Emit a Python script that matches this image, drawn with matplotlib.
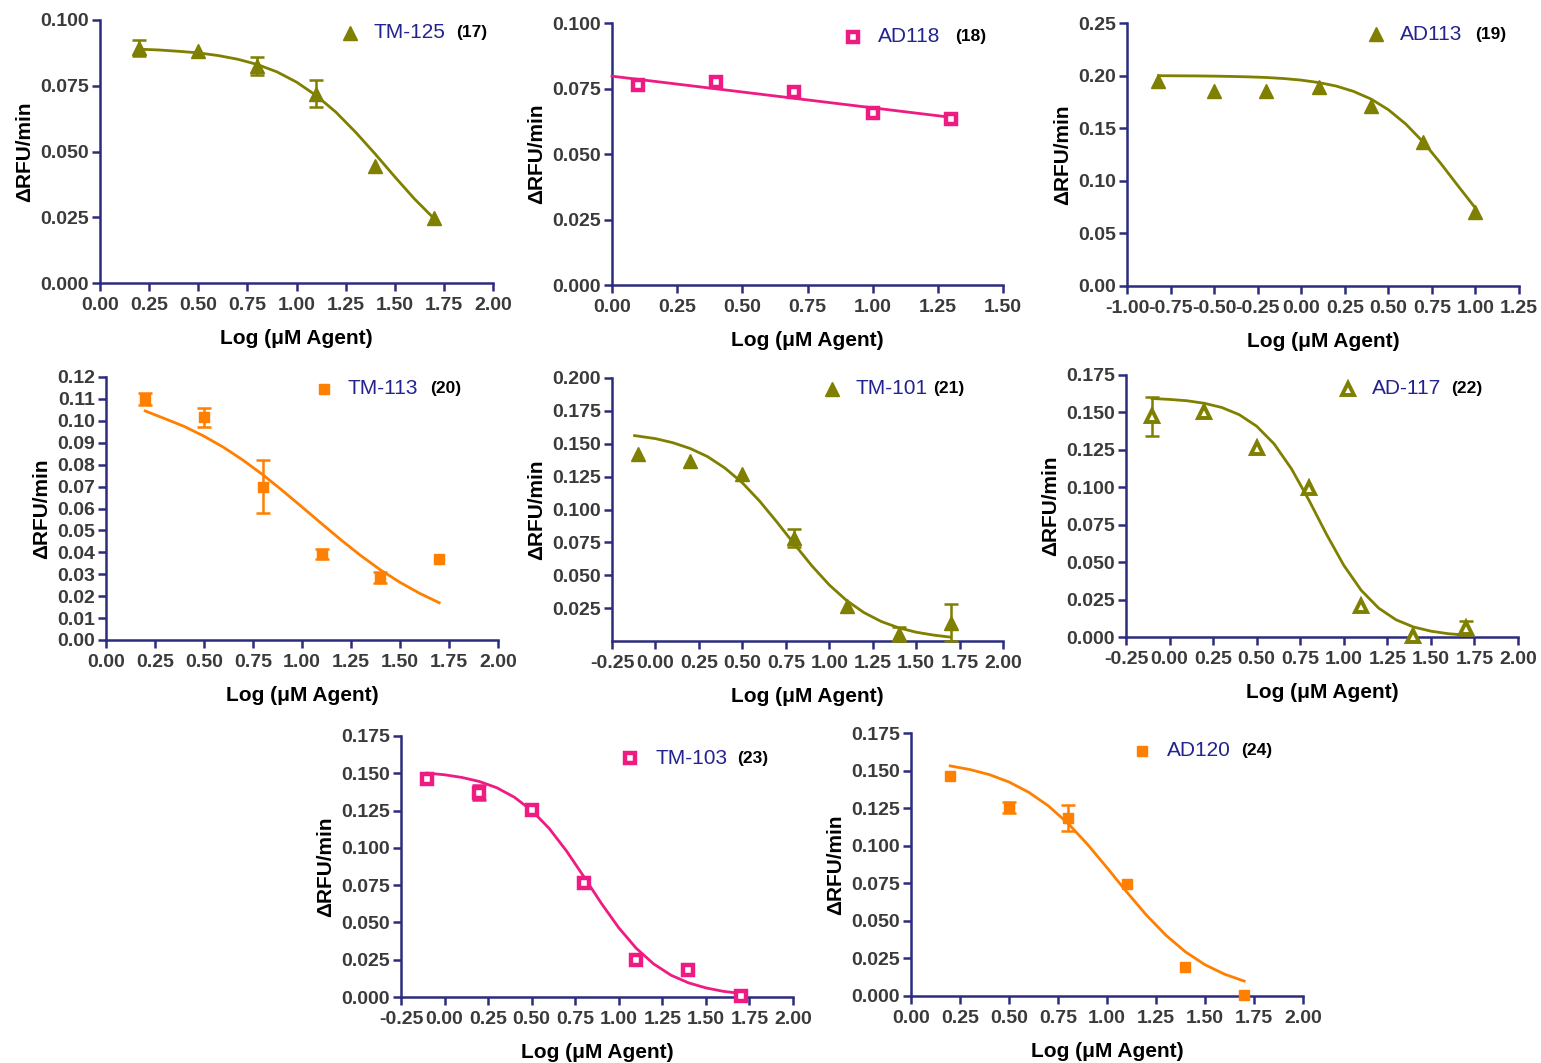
import matplotlib
matplotlib.use("Agg")
import matplotlib.pyplot as plt
from matplotlib.lines import Line2D
from matplotlib.ticker import FormatStrFormatter

plt.rcParams['font.family'] = ['Liberation Sans', 'DejaVu Sans']
plt.rcParams['font.weight'] = 'bold'
plt.rcParams['axes.unicode_minus'] = False

# ---------------------------------------------------------------- data
# TM-125 (17)
tm125_x = [0.2, 0.5, 0.8, 1.1, 1.4, 1.7]
tm125_y = [0.0895, 0.0883, 0.0825, 0.0720, 0.0445, 0.0247]
tm125_err = [0.0030, 0.0, 0.0033, 0.0050, 0.0, 0.0]
tm125_fit_x = [0.2, 0.3, 0.4, 0.5, 0.6, 0.7, 0.8, 0.9, 1.0, 1.1, 1.2, 1.3, 1.4, 1.5, 1.6, 1.7]
tm125_fit_y = [0.0889, 0.0886, 0.0881, 0.0875, 0.0865, 0.0851, 0.0831, 0.0803,
               0.0764, 0.0713, 0.0650, 0.0574, 0.0491, 0.0404, 0.0320, 0.0245]

# AD118 (18)
ad118_x = [0.1, 0.4, 0.7, 1.0, 1.3]
ad118_y = [0.0763, 0.0775, 0.0736, 0.0658, 0.0635]
ad118_err = [0.0, 0.0, 0.0, 0.0, 0.0]
ad118_fit_x = [0.0, 1.3]
ad118_fit_y = [0.0797, 0.0640]

# AD113 (19)
ad113_x = [-0.82, -0.5, -0.2, 0.1, 0.4, 0.7, 1.0]
ad113_y = [0.1944, 0.1855, 0.1855, 0.1896, 0.1712, 0.1370, 0.0700]
ad113_err = [0.0, 0.0, 0.0, 0.0, 0.0, 0.0, 0.0]
ad113_fit_x = [-0.82, -0.7, -0.6, -0.5, -0.4, -0.3, -0.2, -0.1, 0.0, 0.1,
               0.2, 0.3, 0.4, 0.5, 0.6, 0.7, 0.8, 0.9, 1.0]
ad113_fit_y = [0.1999, 0.1998, 0.1997, 0.1995, 0.1992, 0.1988, 0.1982, 0.1972, 0.1957, 0.1934,
               0.1901, 0.1850, 0.1778, 0.1676, 0.1540, 0.1369, 0.1167, 0.0952, 0.0740]

# TM-113 (20)
tm113_x = [0.2, 0.5, 0.8, 1.1, 1.4, 1.7]
tm113_y = [0.1101, 0.1016, 0.0700, 0.0393, 0.0285, 0.0370]
tm113_err = [0.0027, 0.0043, 0.0120, 0.0024, 0.0027, 0.0]
tm113_fit_x = [0.2, 0.3, 0.4, 0.5, 0.6, 0.7, 0.8, 0.9, 1.0, 1.1, 1.2, 1.3, 1.4, 1.5, 1.6, 1.7]
tm113_fit_y = [0.1045, 0.1010, 0.0974, 0.0930, 0.0879, 0.0820, 0.0754, 0.0682,
               0.0607, 0.0531, 0.0456, 0.0385, 0.0320, 0.0263, 0.0213, 0.0170]

# TM-101 (21)
tm101_x = [-0.1, 0.2, 0.5, 0.8, 1.1, 1.4, 1.7]
tm101_y = [0.1420, 0.1370, 0.1270, 0.0783, 0.0265, 0.0055, 0.0140]
tm101_err = [0.0, 0.0, 0.0, 0.0070, 0.0, 0.0055, 0.0140]
tm101_fit_x = [-0.12, 0.0, 0.1, 0.2, 0.3, 0.4, 0.5, 0.6, 0.7, 0.8,
               0.9, 1.0, 1.1, 1.2, 1.3, 1.4, 1.5, 1.6, 1.7]
tm101_fit_y = [0.1562, 0.1539, 0.1508, 0.1464, 0.1402, 0.1315, 0.1203, 0.1063, 0.0903, 0.0735,
               0.0572, 0.0427, 0.0308, 0.0216, 0.0148, 0.0100, 0.0067, 0.0045, 0.0029]

# AD-117 (22)
ad117_x = [-0.1, 0.2, 0.5, 0.8, 1.1, 1.4, 1.7]
ad117_y = [0.1475, 0.1500, 0.1265, 0.0995, 0.0210, 0.0010, 0.0060]
ad117_err = [0.0130, 0.0, 0.0, 0.0, 0.0, 0.0, 0.0045]
ad117_fit_x = [-0.1, 0.0, 0.1, 0.2, 0.3, 0.4, 0.5, 0.6, 0.7, 0.8,
               0.9, 1.0, 1.1, 1.2, 1.3, 1.4, 1.5, 1.6, 1.7]
ad117_fit_y = [0.1593, 0.1587, 0.1578, 0.1561, 0.1533, 0.1485, 0.1408, 0.1290, 0.1123, 0.0914,
               0.0688, 0.0479, 0.0312, 0.0193, 0.0115, 0.0067, 0.0039, 0.0022, 0.0013]

# TM-103 (23)
tm103_x = [-0.1, 0.2, 0.5, 0.8, 1.1, 1.4, 1.7]
tm103_y = [0.1465, 0.1369, 0.1253, 0.0765, 0.0250, 0.0180, 0.0010]
tm103_err = [0.0, 0.0050, 0.0, 0.0, 0.0, 0.0, 0.0]
tm103_fit_x = [-0.1, 0.0, 0.1, 0.2, 0.3, 0.4, 0.5, 0.6, 0.7, 0.8,
               0.9, 1.0, 1.1, 1.2, 1.3, 1.4, 1.5, 1.6, 1.7]
tm103_fit_y = [0.1501, 0.1490, 0.1472, 0.1445, 0.1403, 0.1340, 0.1251, 0.1131, 0.0979, 0.0806,
               0.0628, 0.0464, 0.0327, 0.0222, 0.0146, 0.0095, 0.0061, 0.0038, 0.0024]

# AD120 (24)
ad120_x = [0.2, 0.5, 0.8, 1.1, 1.4, 1.7]
ad120_y = [0.1465, 0.1255, 0.1185, 0.0745, 0.0195, 0.0008]
ad120_err = [0.0, 0.0035, 0.0088, 0.0, 0.0, 0.0]
ad120_fit_x = [0.2, 0.3, 0.4, 0.5, 0.6, 0.7, 0.8, 0.9, 1.0, 1.1, 1.2, 1.3, 1.4, 1.5, 1.6, 1.7]
ad120_fit_y = [0.1531, 0.1507, 0.1473, 0.1424, 0.1356, 0.1266, 0.1150, 0.1010,
               0.0854, 0.0693, 0.0540, 0.0405, 0.0294, 0.0208, 0.0145, 0.0099]

compound_names = ["TM-125", "AD118", "AD113", "TM-113", "TM-101", "AD-117", "TM-103", "AD120"]
compound_numbers = ["(17)", "(18)", "(19)", "(20)", "(21)", "(22)", "(23)", "(24)"]

# ---------------------------------------------------------------- styles
OLIVE = "#7f7f00"
PINK = "#ee1b82"
ORANGE = "#ff7f00"
AXIS = "#2c2c7e"
TICKTXT = "#3a3a3a"
LEGTXT = "#23238f"

filled_tri = dict(marker="^", ms=9.5, mfc=OLIVE, mec=OLIVE, mew=1.0)
open_tri = dict(marker="^", ms=8.5, mfc="white", mec=OLIVE, mew=2.8)
open_sq = dict(marker="s", ms=6.5, mfc="white", mec=PINK, mew=3.2)
filled_sq = dict(marker="s", ms=7.5, mfc=ORANGE, mec=ORANGE, mew=1.0)

series = [
    (tm125_x, tm125_y, tm125_err, tm125_fit_x, tm125_fit_y, OLIVE, filled_tri),
    (ad118_x, ad118_y, ad118_err, ad118_fit_x, ad118_fit_y, PINK, open_sq),
    (ad113_x, ad113_y, ad113_err, ad113_fit_x, ad113_fit_y, OLIVE, filled_tri),
    (tm113_x, tm113_y, tm113_err, tm113_fit_x, tm113_fit_y, ORANGE, filled_sq),
    (tm101_x, tm101_y, tm101_err, tm101_fit_x, tm101_fit_y, OLIVE, filled_tri),
    (ad117_x, ad117_y, ad117_err, ad117_fit_x, ad117_fit_y, OLIVE, open_tri),
    (tm103_x, tm103_y, tm103_err, tm103_fit_x, tm103_fit_y, PINK, open_sq),
    (ad120_x, ad120_y, ad120_err, ad120_fit_x, ad120_fit_y, ORANGE, filled_sq),
]

# ---------------------------------------------------------------- layout (pixels)
W, H = 1541, 1063
# (left, top, right, bottom) of each plotting area
boxes = [
    (100, 20, 493, 283), (612, 23, 1003, 285), (1127, 23, 1519, 286),
    (106, 377, 498, 640), (612, 378, 1003, 641), (1126, 375, 1518, 637),
    (401, 736, 793, 997), (911, 733, 1303, 996),
]
# axis ranges: (xmin, xmax, xstep, ymin, ymax, ystep, first y tick, y format)
ranges = [
    (0.0, 2.0, 0.25, 0.0, 0.100, 0.025, 0.0, "%.3f"),
    (0.0, 1.5, 0.25, 0.0, 0.100, 0.025, 0.0, "%.3f"),
    (-1.0, 1.25, 0.25, 0.0, 0.25, 0.05, 0.0, "%.2f"),
    (0.0, 2.0, 0.25, 0.0, 0.12, 0.01, 0.0, "%.2f"),
    (-0.25, 2.0, 0.25, 0.0, 0.200, 0.025, 0.025, "%.3f"),
    (-0.25, 2.0, 0.25, 0.0, 0.175, 0.025, 0.0, "%.3f"),
    (-0.25, 2.0, 0.25, 0.0, 0.175, 0.025, 0.0, "%.3f"),
    (0.0, 2.0, 0.25, 0.0, 0.175, 0.025, 0.0, "%.3f"),
]
# legend: marker x, marker/text y, name x, number x
legend_pos = [
    (350, 33, 373, 456), (853, 37, 878, 955), (1376, 34, 1400, 1475),
    (324, 389, 348, 430), (832, 389, 855, 933), (1348, 389, 1372, 1451),
    (630, 758, 655, 737), (1142, 751, 1167, 1241),
]


def fx(px):
    return px / W


def fy(py):
    return 1.0 - py / H


def ticks(start, stop, step):
    out = []
    n = int(round((stop - start) / step))
    for i in range(n + 1):
        out.append(round(start + i * step, 4))
    return out


fig = plt.figure(figsize=(W / 100, H / 100), dpi=100)

for i, (box, rg, s, leg) in enumerate(zip(boxes, ranges, series, legend_pos)):
    L, T, R, B = box
    ax = fig.add_axes([fx(L), fy(B), (R - L) / W, (B - T) / H])
    xmin, xmax, xstep, ymin, ymax, ystep, yfirst, yfmt = rg
    xs, ys, es, fxs, fys, color, mstyle = s

    ax.plot(fxs, fys, color=color, lw=2.0, zorder=3, clip_on=False)
    ex = [x for x, e in zip(xs, es) if e > 0]
    ey = [y for y, e in zip(ys, es) if e > 0]
    ee = [e for e in es if e > 0]
    if ee:
        ax.errorbar(ex, ey, yerr=ee, fmt="none", ecolor=color, elinewidth=1.8,
                    capsize=5, capthick=1.8, zorder=4, clip_on=False)
    ax.plot(xs, ys, ls="none", zorder=5, clip_on=False, **mstyle)

    ax.set_xlim(xmin, xmax)
    ax.set_ylim(ymin, ymax)
    ax.set_xticks(ticks(xmin, xmax, xstep))
    ax.set_yticks(ticks(yfirst, ymax, ystep))
    ax.xaxis.set_major_formatter(FormatStrFormatter("%.2f"))
    ax.yaxis.set_major_formatter(FormatStrFormatter(yfmt))

    for side in ("top", "right"):
        ax.spines[side].set_visible(False)
    for side in ("left", "bottom"):
        ax.spines[side].set_color(AXIS)
        ax.spines[side].set_linewidth(1.8)
    ax.tick_params(axis="both", direction="out", length=6, width=1.8,
                   color=AXIS, labelcolor=TICKTXT, labelsize=14, pad=2)
    ax.tick_params(axis="x", pad=4)
    for lbl in ax.get_xticklabels() + ax.get_yticklabels():
        lbl.set_fontweight("bold")

    ax.set_xlabel("Log (μM Agent)", fontsize=15, fontweight="bold", color="black", labelpad=11)
    ax.set_ylabel("ΔRFU/min", fontsize=15, fontweight="bold", color="black", labelpad=4)

    mx, my, tx, nx = leg
    fig.add_artist(Line2D([fx(mx)], [fy(my)], ls="none", transform=fig.transFigure, **mstyle))
    fig.text(fx(tx), fy(my), compound_names[i], fontsize=15, fontweight="normal",
             color=LEGTXT, va="center", ha="left")
    fig.text(fx(nx), fy(my), compound_numbers[i], fontsize=12.5, fontweight="bold",
             color="black", va="center", ha="left")

fig.savefig("out.png", dpi=100)
